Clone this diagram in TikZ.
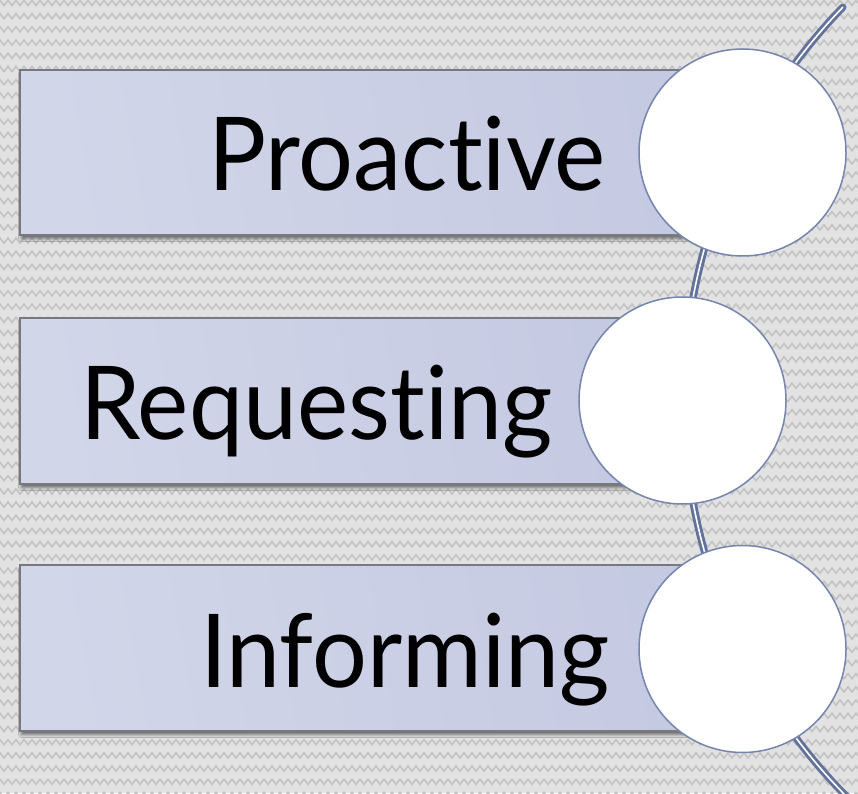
\documentclass[tikz,border=0pt]{standalone}
\usepackage{fontspec}
\setmainfont{Lato}[Ligatures=NoCommon]
\usetikzlibrary{shadows.blur,decorations.pathmorphing}

\definecolor{bgbase}{HTML}{E2E2E2}
\definecolor{bgzig}{HTML}{C2C2C2}
\definecolor{barlight}{HTML}{D2D6E9}
\definecolor{bardark}{HTML}{B3BAD9}
\definecolor{barend}{HTML}{C4C9E2}
\definecolor{barline}{HTML}{787880}
\definecolor{ringline}{HTML}{7585AD}
\definecolor{arcline}{HTML}{63729A}

\tikzset{
  bar/.style={draw=barline, line width=1.2pt,
    left color=barlight, middle color=bardark, right color=barend, shading angle=100,
    blur shadow={shadow xshift=1.5pt, shadow yshift=-3.5pt, shadow blur radius=3pt, shadow opacity=55}},
  disc/.style={circle, draw=ringline, line width=1.5pt, fill=white, minimum size=207pt, inner sep=0pt},
  label/.style={font=\fontsize{102}{102}\selectfont, text=black, inner sep=0pt, anchor=base east},
  spine/.style={draw=arcline, line width=2.9pt, double=white, double distance=1.6pt, line cap=round}
}
\newcommand{\narrow}[1]{\scalebox{0.95}[1]{#1}}

\begin{document}
\begin{tikzpicture}[x=1pt, y=1pt]
  % textured backdrop
  \fill[bgbase] (0,0) rectangle (858,793);
  \begin{scope}
    \clip (0,0) rectangle (858,793);
    \foreach \r in {0,...,60} {
      \draw[bgzig, line width=1.5pt, decorate, decoration={zigzag, segment length=8pt, amplitude=2.6pt}]
        (-10,{793-3-\r*13.2}) -- (870,{793-3-\r*13.2});
    }
    % curved spine behind the discs
    \coordinate (hub) at (1248,393);
    \draw[spine] (hub) ++(135.9:564.3) arc[start angle=135.9, end angle=226, radius=564.3];
  \end{scope}

  % bars
  \path[bar] (20,558) rectangle (742,723);
  \path[bar] (20,309) rectangle (682,475);
  \path[bar] (20,62) rectangle (742,228);

  % discs
  \node[disc] (d1) at (742.5,640.5) {};
  \node[disc] (d2) at (682.5,392.5) {};
  \node[disc] (d3) at (742.5,144) {};

  % labels
  \node[label] (t1) at (606,602) {\narrow{Proactive}};
  \node[label] (t2) at (553,354) {\narrow{Requesting}};
  \node[label] (t3) at (610,106) {\narrow{Informing}};
\end{tikzpicture}
\end{document}
